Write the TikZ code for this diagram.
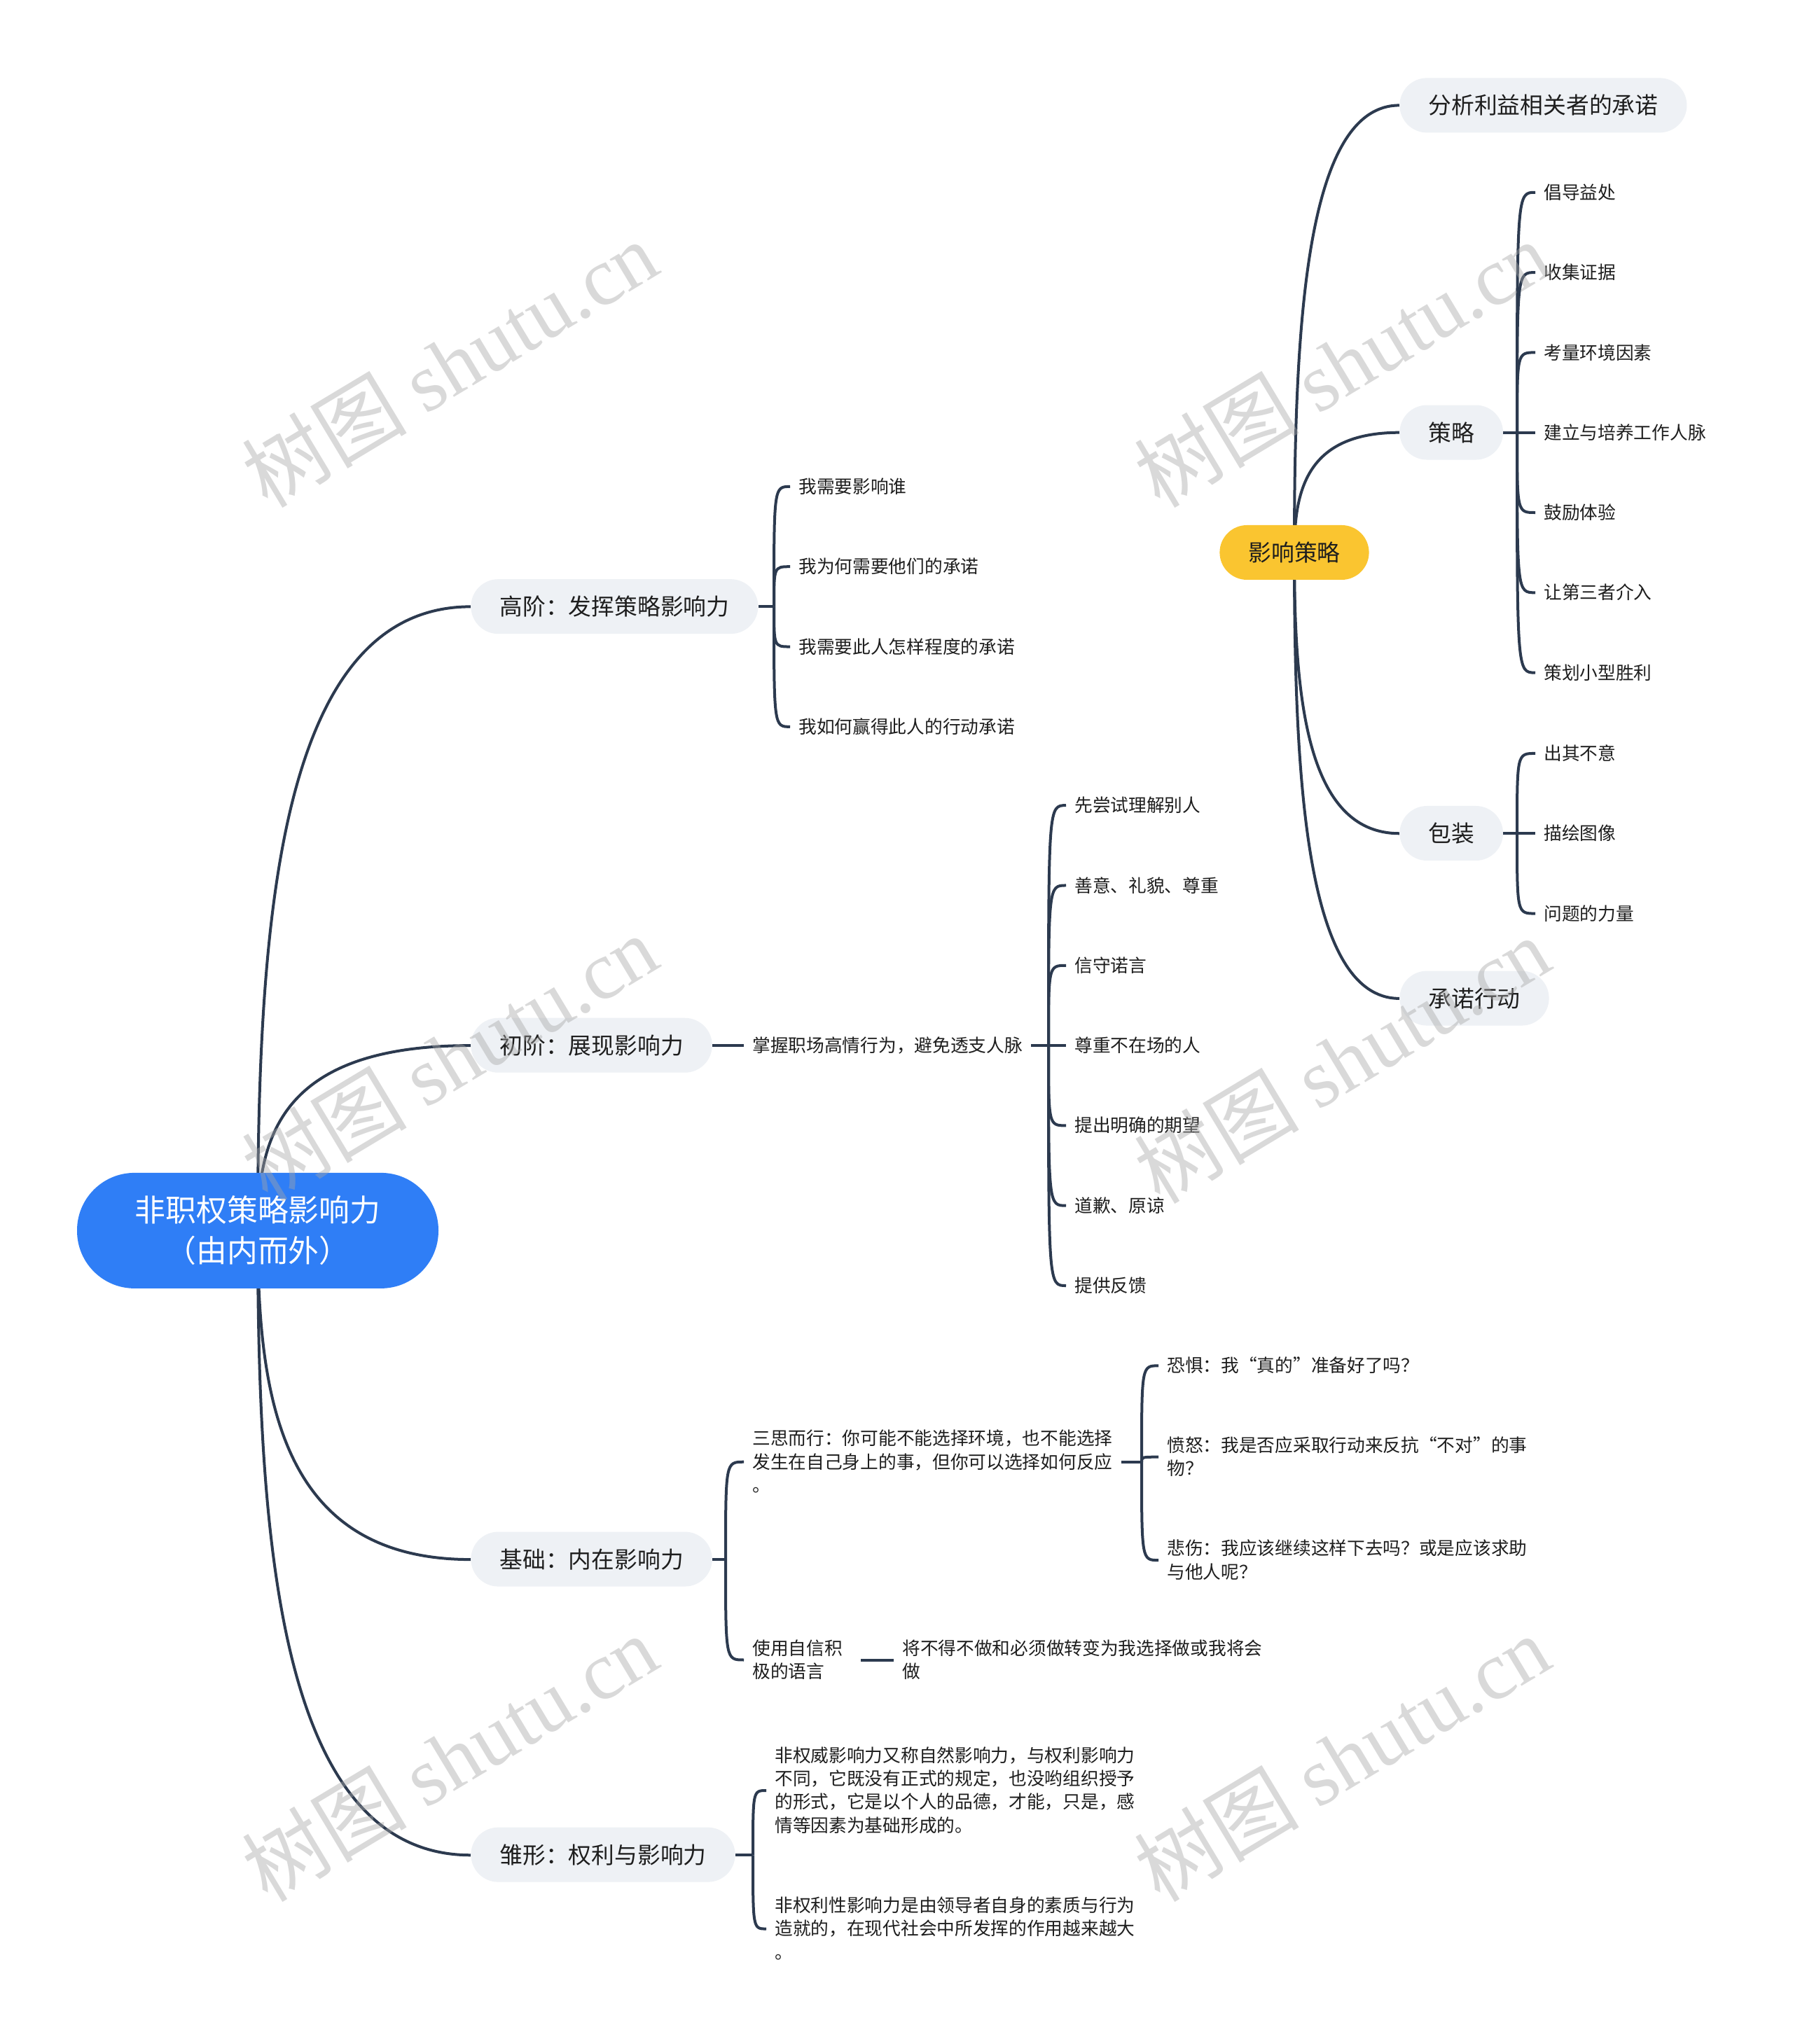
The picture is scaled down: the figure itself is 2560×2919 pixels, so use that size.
\documentclass[tikz,border=0pt]{standalone}
\usepackage{fontspec}
\setmainfont{Noto Sans CJK SC}
\newfontfamily\wmlatin{Liberation Serif}
\usetikzlibrary{calc}
\definecolor{linec}{HTML}{2C3A4F}
\definecolor{rootc}{HTML}{2F7EF6}
\definecolor{yelc}{HTML}{FAC530}
\definecolor{lfill}{HTML}{EEF1F5}
\definecolor{txt}{HTML}{1E1E1E}
\pgfdeclarelayer{bgl}
\pgfdeclarelayer{lines}
\pgfsetlayers{bgl,lines,main}
\newcommand\bigcurve[2]{\draw[conn] (#1.center) .. controls ($(#1.center)!0.5!(#1.center |- #2.west)$) and ($(#1.center |- #2.west)!0.1!(#2.west)$) .. (#2.west);}
\newcommand\hookcurve[2]{\draw[conn] (#1) .. controls (#1 |- #2.west) .. (#2.west);}
\begin{document}
\begin{tikzpicture}[x=0.5pt,y=-0.5pt,
 conn/.style={draw=linec, line width=2pt},
 rootbox/.style={fill=rootc, text=white, rounded corners=41pt, minimum width=258pt, minimum height=82.5pt, align=center, font=\fontsize{21.9}{28.8}\selectfont, inner sep=0pt},
 topic/.style={fill=lfill, text=txt, rounded corners=19.5pt, minimum height=39pt, inner xsep=20.5pt, inner ysep=0pt, font=\fontsize{16.4}{20}\selectfont, anchor=west},
 ytopic/.style={topic, fill=yelc, anchor=center},
 leaf/.style={text=txt, font=\fontsize{12.85}{16.7}\selectfont, inner xsep=6pt, inner ysep=2pt, align=left, anchor=west},
 wm/.style={text=gray!70, opacity=0.42, rotate=31, font=\fontsize{59}{59}\selectfont}
]
\begin{pgfonlayer}{bgl}
\fill[white] (0,0) rectangle (2560,2919);
\end{pgfonlayer}
\useasboundingbox (0,0) rectangle (2560,2919);

\begin{scope}[yshift=-1pt, yscale=1.0025]
% root and main topics
\node[rootbox] (root) at (368,1751) {非职权策略影响力\\（由内而外）};
\node[topic] (gj) at (672,862) {高阶：发挥策略影响力};
\node[topic] (cj) at (672,1487) {初阶：展现影响力};
\node[topic] (jc) at (672,2219) {基础：内在影响力};
\node[topic] (cx) at (672,2640) {雏形：权利与影响力};

% 高阶
\coordinate (gs) at (1105,862);
\node[leaf] (g1) at (1128,691) {我需要影响谁};
\node[leaf] (g2) at (1128,805) {我为何需要他们的承诺};
\node[leaf] (g3) at (1128,919) {我需要此人怎样程度的承诺};
\node[leaf] (g4) at (1128,1033) {我如何赢得此人的行动承诺};

% 初阶
\node[leaf] (zw) at (1062,1487) {掌握职场高情行为，避免透支人脉};
\coordinate (cs) at (1497,1487);
\node[leaf] (c1) at (1522,1145) {先尝试理解别人};
\node[leaf] (c2) at (1522,1259) {善意、礼貌、尊重};
\node[leaf] (c3) at (1522,1373) {信守诺言};
\node[leaf] (c4) at (1522,1487) {尊重不在场的人};
\node[leaf] (c5) at (1522,1601) {提出明确的期望};
\node[leaf] (c6) at (1522,1715) {道歉、原谅};
\node[leaf] (c7) at (1522,1829) {提供反馈};

% 基础
\coordinate (js) at (1036,2219);
\node[leaf] (j1) at (1062,2080) {三思而行：你可能不能选择环境，也不能选择\\发生在自己身上的事，但你可以选择如何反应\\。};
\node[leaf] (j2) at (1062,2362) {使用自信积\\极的语言};
\node[leaf] (j3) at (1276,2362) {将不得不做和必须做转变为我选择做或我将会\\做};
\coordinate (ss) at (1630,2080);
\node[leaf] (s1) at (1654,1943) {恐惧：我“真的”准备好了吗？};
\node[leaf] (s2) at (1654,2073) {愤怒：我是否应采取行动来反抗“不对”的事\\物？};
\node[leaf] (s3) at (1654,2220) {悲伤：我应该继续这样下去吗？或是应该求助\\与他人呢？};

% 雏形
\coordinate (xs) at (1075,2640);
\node[leaf] (x1) at (1094,2548) {非权威影响力又称自然影响力，与权利影响力\\不同，它既没有正式的规定，也没哟组织授予\\的形式，它是以个人的品德，才能，只是，感\\情等因素为基础形成的。};
\node[leaf] (x2) at (1094,2745) {非权利性影响力是由领导者自身的素质与行为\\造就的，在现代社会中所发挥的作用越来越大\\。};

% 影响策略 (floating topic)
\node[ytopic] (yx) at (1848,785) {影响策略};
\node[topic] (r1) at (1998,148) {分析利益相关者的承诺};
\node[topic] (r2) at (1998,614) {策略};
\node[topic] (r3) at (1998,1185) {包装};
\node[topic] (r4) at (1998,1420) {承诺行动};
\coordinate (rs2) at (2166,614);
\node[leaf] (p1) at (2192,272) {倡导益处};
\node[leaf] (p2) at (2192,386) {收集证据};
\node[leaf] (p3) at (2192,500) {考量环境因素};
\node[leaf] (p4) at (2192,614) {建立与培养工作人脉};
\node[leaf] (p5) at (2192,728) {鼓励体验};
\node[leaf] (p6) at (2192,842) {让第三者介入};
\node[leaf] (p7) at (2192,956) {策划小型胜利};
\coordinate (rs3) at (2166,1185);
\node[leaf] (q1) at (2192,1071) {出其不意};
\node[leaf] (q2) at (2192,1185) {描绘图像};
\node[leaf] (q3) at (2192,1299) {问题的力量};

\begin{pgfonlayer}{lines}
\bigcurve{root}{gj}
\bigcurve{root}{cj}
\bigcurve{root}{jc}
\bigcurve{root}{cx}
\bigcurve{yx}{r1}
\bigcurve{yx}{r2}
\bigcurve{yx}{r3}
\bigcurve{yx}{r4}
\draw[conn] (gj.east) -- (gs);
\foreach \c in {g1,g2,g3,g4} {\hookcurve{gs}{\c}}
\draw[conn] (cj.east) -- (zw.west);
\draw[conn] (zw.east) -- (cs);
\foreach \c in {c1,c2,c3,c4,c5,c6,c7} {\hookcurve{cs}{\c}}
\draw[conn] (jc.east) -- (js);
\foreach \c in {j1,j2} {\hookcurve{js}{\c}}
\draw[conn] (j1.east) -- (ss);
\foreach \c in {s1,s2,s3} {\hookcurve{ss}{\c}}
\draw[conn] ($(j2.east)+(14,0)$) -- (j3.west);
\draw[conn] (cx.east) -- (xs);
\foreach \c in {x1,x2} {\hookcurve{xs}{\c}}
\draw[conn] (r2.east) -- (rs2);
\foreach \c in {p1,p2,p3,p4,p5,p6,p7} {\hookcurve{rs2}{\c}}
\draw[conn] (r3.east) -- (rs3);
\foreach \c in {q1,q2,q3} {\hookcurve{rs3}{\c}}
\end{pgfonlayer}

% watermarks
\node[wm] (w1) at (642,516) {树图 {\wmlatin shutu.cn}};
\node[wm] (w2) at (1916,516) {树图 {\wmlatin shutu.cn}};
\node[wm] (w3) at (642,1505) {树图 {\wmlatin shutu.cn}};
\node[wm] (w4) at (1916,1508) {树图 {\wmlatin shutu.cn}};
\node[wm] (w5) at (642,2502) {树图 {\wmlatin shutu.cn}};
\node[wm] (w6) at (1916,2502) {树图 {\wmlatin shutu.cn}};
\end{scope}
\end{tikzpicture}
\end{document}
